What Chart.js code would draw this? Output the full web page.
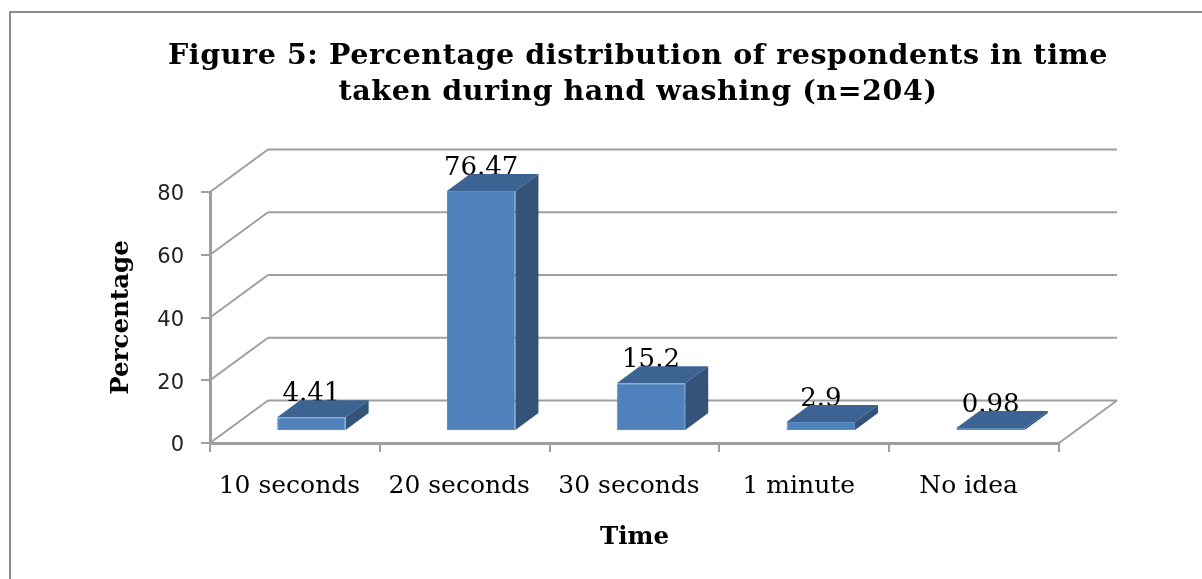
<!DOCTYPE html>
<html>
<head>
<meta charset="utf-8">
<title>Hand washing time</title>
<script src="https://cdn.jsdelivr.net/npm/chart.js@4"></script>
<style>
  html, body { margin: 0; padding: 0; background: #fff; overflow: hidden; }
  #wrap { position: relative; width: 1202px; height: 579px; overflow: hidden; }
  #frame { position: absolute; left: 9px; top: 11px; right: 0; bottom: 0; border-top: 2px solid #8c8c8c; border-left: 2px solid #8c8c8c; }
  canvas { position: absolute; left: 0; top: 0; }
</style>
</head>
<body>
<div id="wrap">
  <div id="frame"></div>
  <canvas id="chart" width="1202" height="579"></canvas>
</div>
<script>
// Percentage of respondents by time taken during hand washing
const categories = ['10 seconds', '20 seconds', '30 seconds', '1 minute', 'No idea'];
const percentages = [4.41, 76.47, 15.2, 2.9, 0.98];
const yTicks = [0, 20, 40, 60, 80];
const titleLines = [
  'Figure 5: Percentage distribution of respondents in time',
  'taken during hand washing (n=204)'
];

const COLORS = {
  front: '#4f81bd',
  edge: '#5c8cc6',
  top: '#3c6391',
  side: '#335379',
  axis: '#9f9f9f',
  text: '#000',
  tick: '#222'
};
const SERIF = '"DejaVu Serif", serif';

// fake 3D: wall depth, and how far the bars sit from the front of the floor
const WALL_DX = 58, WALL_DY = 42.5;
const BAR_DX = 16.5, BAR_DY = 12;
const CAP_DX = 23, CAP_DY = 17;

function line(ctx, x1, y1, x2, y2) {
  ctx.beginPath();
  ctx.moveTo(x1, y1);
  ctx.lineTo(x2, y2);
  ctx.stroke();
}

function poly(ctx, pts, fill) {
  ctx.fillStyle = fill;
  ctx.beginPath();
  pts.forEach((p, i) => i ? ctx.lineTo(p[0], p[1]) : ctx.moveTo(p[0], p[1]));
  ctx.closePath();
  ctx.fill();
}

const box3d = {
  id: 'box3d',
  beforeDraw(chart) {
    const ctx = chart.ctx;
    ctx.save();
    ctx.fillStyle = COLORS.text;
    ctx.font = 'bold 28.5px ' + SERIF;
    ctx.letterSpacing = '0.6px';
    ctx.textAlign = 'center';
    ctx.textBaseline = 'alphabetic';
    ctx.fillText(titleLines[0], 638, 64);
    ctx.fillText(titleLines[1], 638, 100);
    ctx.restore();
  },
  beforeDatasetsDraw(chart) {
    const { ctx, scales: { x, y } } = chart;
    ctx.save();
    ctx.strokeStyle = COLORS.axis;
    ctx.lineWidth = 2;
    // side wall diagonals and back wall lines at each tick
    yTicks.forEach(v => {
      const py = y.getPixelForValue(v);
      line(ctx, x.left, py, x.left + WALL_DX, py - WALL_DY);
      line(ctx, x.left + WALL_DX, py - WALL_DY, x.right + WALL_DX, py - WALL_DY);
    });
    line(ctx, x.right, y.bottom, x.right + WALL_DX, y.bottom - WALL_DY);

    // value labels go under the bars so the cap can cut into them
    ctx.fillStyle = COLORS.text;
    ctx.font = '26px ' + SERIF;
    ctx.textAlign = 'center';
    ctx.textBaseline = 'alphabetic';
    chart.getDatasetMeta(0).data.forEach((bar, i) => {
      ctx.fillText(String(percentages[i]), bar.x + BAR_DX, bar.y - BAR_DY - 16);
    });
    ctx.restore();
  },
  beforeDatasetDraw(chart, args) {
    const ctx = chart.ctx;
    args.meta.data.forEach(bar => {
      const l = bar.x - bar.width / 2 + BAR_DX;
      const r = bar.x + bar.width / 2 + BAR_DX;
      const t = bar.y - BAR_DY;
      const b = bar.base - BAR_DY;
      poly(ctx, [[l, t], [r, t], [r + CAP_DX, t - CAP_DY], [l + CAP_DX, t - CAP_DY]], COLORS.top);
      poly(ctx, [[r, t], [r + CAP_DX, t - CAP_DY], [r + CAP_DX, b - CAP_DY], [r, b]], COLORS.side);
    });
    ctx.save();
    ctx.translate(BAR_DX, -BAR_DY);
  },
  afterDatasetDraw(chart) {
    chart.ctx.restore();
  }
};

new Chart(document.getElementById('chart'), {
  type: 'bar',
  data: {
    labels: categories,
    datasets: [{
      data: percentages,
      backgroundColor: COLORS.front,
      borderColor: COLORS.edge,
      borderWidth: 1,
      borderSkipped: false,
      categoryPercentage: 1,
      barPercentage: 0.403,
      clip: false
    }]
  },
  plugins: [box3d],
  options: {
    responsive: false,
    animation: false,
    layout: { padding: { left: 0, top: 192, right: 143, bottom: 0 } },
    plugins: { legend: { display: false }, tooltip: { enabled: false } },
    scales: {
      x: {
        afterFit(scale) { scale.height = 136; },
        grid: { drawOnChartArea: false, color: COLORS.axis, lineWidth: 2, tickLength: 9 },
        border: { color: COLORS.axis, width: 3 },
        ticks: {
          color: COLORS.text,
          font: { family: SERIF, size: 25 },
          padding: 19,
          labelOffset: -5.5,
          maxRotation: 0,
          autoSkip: false
        },
        title: {
          display: true,
          text: 'Time',
          color: COLORS.text,
          font: { family: SERIF, size: 24.5, weight: 'bold' },
          padding: { top: 0, bottom: 27 }
        }
      },
      y: {
        min: 0,
        max: 80,
        afterFit(scale) { scale.width = 210; },
        afterBuildTicks(scale) { scale.ticks = yTicks.map(v => ({ value: v })); },
        grid: { drawOnChartArea: false, color: COLORS.axis, lineWidth: 2, tickLength: 9 },
        border: { color: COLORS.axis, width: 3 },
        ticks: {
          color: COLORS.tick,
          font: { family: '"DejaVu Sans", sans-serif', size: 21 },
          padding: 17,
          labelOffset: 3
        },
        title: {
          display: true,
          text: 'Percentage',
          color: COLORS.text,
          font: { family: SERIF, size: 24.5, weight: 'bold' },
          padding: { top: 107, bottom: 0 }
        }
      }
    }
  }
});
</script>
</body>
</html>
